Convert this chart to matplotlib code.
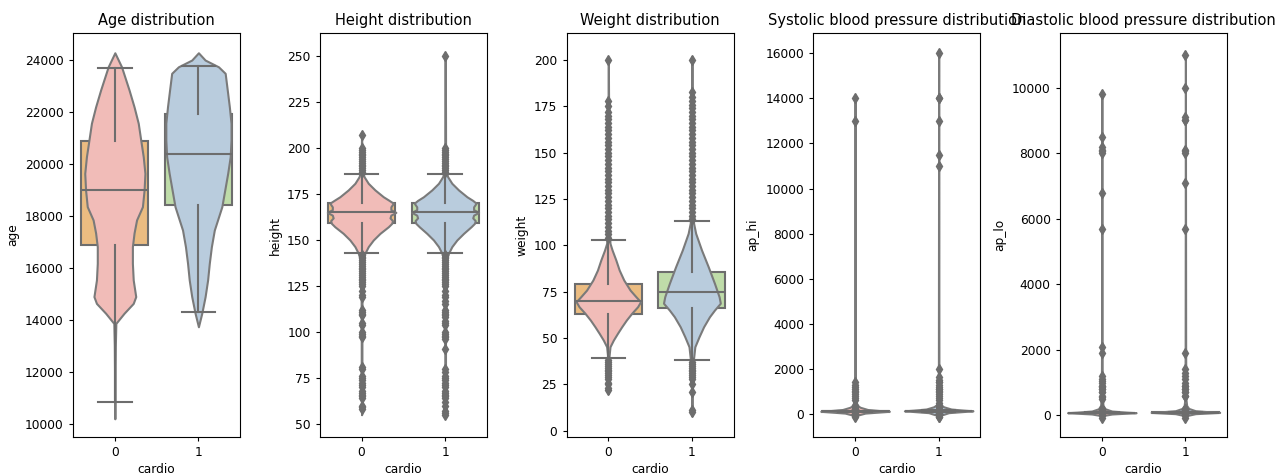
import matplotlib
matplotlib.use("Agg")
import matplotlib.pyplot as plt
import numpy as np

# ---------------- data ----------------
groups = [0, 1]
group_labels = ["0", "1"]
titles = ["Age distribution", "Height distribution", "Weight distribution",
          "Systolic blood pressure distribution", "Diastolic blood pressure distribution"]
ylabels = ["age", "height", "weight", "ap_hi", "ap_lo"]

# box statistics (cardio 0, cardio 1)
age_med = [19000, 20400]
age_q1 = [16900, 18420]
age_q3 = [20880, 21920]
age_whislo = [10830, 14320]
age_whishi = [23680, 23760]
age_fliers0 = []
age_fliers1 = []

height_med = [165, 165]
height_q1 = [159, 159]
height_q3 = [170, 170]
height_whislo = [143, 143]
height_whishi = [186, 186]
height_fliers0 = [187, 188, 189, 190, 191, 192, 193, 194, 195, 196, 197, 198, 199, 200, 207,
                  142, 141, 140, 139, 138, 137, 136, 135, 134, 133, 132, 131, 130, 129, 128,
                  127, 126, 125, 122, 120, 119, 112, 111, 110, 109, 105, 104, 100, 99, 98, 97,
                  81, 80, 76, 75, 74, 72, 71, 70, 68, 67, 66, 65, 64, 60, 59, 58]
height_fliers1 = [187, 188, 189, 190, 191, 192, 193, 194, 195, 196, 197, 198, 199, 200, 250,
                  142, 141, 140, 139, 138, 137, 136, 135, 134, 133, 132, 131, 130, 129, 128,
                  127, 126, 125, 122, 120, 119, 117, 115, 112, 111, 110, 109, 108, 106, 105,
                  104, 100, 99, 98, 97, 96, 91, 80, 78, 76, 75, 74, 72, 71, 70, 68, 67, 66,
                  65, 64, 62, 60, 57, 56, 55]

weight_med = [70, 75]
weight_q1 = [63, 66]
weight_q3 = [79, 85.5]
weight_whislo = [39, 38]
weight_whishi = [103, 113]
weight_fliers0 = [104, 106, 108, 110, 112, 114, 116, 118, 120, 122, 124, 126, 128, 130, 132,
                  134, 136, 138, 140, 142, 144, 146, 148, 150, 152, 154, 156, 158, 160, 162,
                  164, 166, 168, 170, 172, 175, 178, 200,
                  38, 37, 36, 35, 34, 33, 32, 31, 30, 29, 28, 26, 25, 23, 22]
weight_fliers1 = [114, 116, 118, 120, 122, 124, 126, 128, 130, 132, 134, 136, 138, 140, 142,
                  144, 146, 148, 150, 152, 154, 156, 158, 160, 162, 164, 166, 168, 170, 172,
                  174, 176, 178, 180, 183, 200,
                  37, 36, 35, 34, 33, 32, 31, 30, 29, 28, 25, 21, 11, 10]

aphi_med = [120, 130]
aphi_q1 = [110, 120]
aphi_q3 = [120, 140]
aphi_whislo = [95, 90]
aphi_whishi = [135, 170]
aphi_fliers0 = [14020, 13010, 1420, 1300, 1205, 1130, 1000, 960, 907, 806, 701, 600, 401,
                309, 240, 220, 200, 190, 180, 170, 160, 150, 140, 90, 85, 80, 70, 60, 20, 14,
                12, 11, 10, 1, -100, -150]
aphi_fliers1 = [16020, 14020, 14000, 13010, 11500, 11020, 2000, 1620, 1500, 1420, 1400, 1300,
                1205, 1130, 1110, 1000, 960, 907, 806, 701, 600, 509, 401, 309, 240, 220, 200,
                190, 185, 180, 80, 70, 60, 24, 20, 16, 14, 13, 11, 10, 1, -115, -140]

aplo_med = [80, 80]
aplo_q1 = [70, 80]
aplo_q3 = [80, 90]
aplo_whislo = [60, 65]
aplo_whishi = [95, 105]
aplo_fliers0 = [9800, 8500, 8200, 8100, 8079, 8000, 6800, 5700, 2088, 1900, 1200, 1100, 1033,
                1001, 902, 900, 850, 809, 800, 710, 700, 602, 570, 500, 190, 180, 170, 160,
                150, 140, 130, 125, 30, 20, 10, 0, -70]
aplo_fliers1 = [11000, 10000, 9100, 9011, 9000, 8100, 8077, 8000, 7100, 5700, 1900, 1400, 1300,
                1200, 1100, 1000, 910, 900, 809, 800, 708, 700, 602, 600, 190, 180, 170, 160,
                150, 140, 130, 120, 110, 60, 50, 40, 30, 20, 10, 0, -70]

# violin profiles: values and half widths (x units)
age_v0_y = [10200, 11000, 12000, 13000, 13870, 14260, 14640, 14900, 15540, 16180, 16820, 17350,
            17850, 18360, 19000, 19640, 20280, 20920, 21570, 22200, 22850, 23740, 24280]
age_v0_w = [0.0, 0.004, 0.004, 0.006, 0.012, 0.11, 0.22, 0.25, 0.22, 0.21, 0.21, 0.23,
            0.26, 0.33, 0.35, 0.36, 0.34, 0.31, 0.28, 0.23, 0.17, 0.08, 0.0]
age_v1_y = [13740, 14260, 14900, 15540, 16180, 16820, 17460, 18360, 19000, 19640, 20280, 20920,
            21570, 22200, 22850, 23490, 23740, 24000, 24280]
age_v1_w = [0.0, 0.04, 0.08, 0.11, 0.13, 0.155, 0.19, 0.28, 0.315, 0.35, 0.38, 0.39,
            0.39, 0.37, 0.345, 0.32, 0.24, 0.08, 0.0]

height_v0_y = [55, 70, 100, 130, 140, 142.8, 146.4, 150, 153.6, 157.2, 159, 160.5, 162, 163.5,
               165, 166.5, 168, 170, 171.5, 173.5, 177.2, 180.8, 184.4, 188, 195, 208]
height_v0_w = [0.0, 0.004, 0.004, 0.006, 0.02, 0.04, 0.08, 0.14, 0.22, 0.32, 0.36, 0.37, 0.34,
               0.35, 0.41, 0.35, 0.35, 0.38, 0.33, 0.26, 0.16, 0.08, 0.03, 0.01, 0.005, 0.0]
height_v1_y = [54, 70, 100, 130, 140, 142.8, 146.4, 150, 153.6, 157.2, 159, 160.5, 162, 163.5,
               165, 166.5, 168, 170, 171.5, 173.5, 177.2, 180.8, 184.4, 188, 195, 220, 250]
height_v1_w = [0.0, 0.004, 0.004, 0.006, 0.02, 0.04, 0.08, 0.14, 0.22, 0.31, 0.35, 0.36, 0.33,
               0.34, 0.40, 0.34, 0.34, 0.37, 0.33, 0.26, 0.16, 0.08, 0.03, 0.01, 0.005, 0.004, 0.0]

weight_v0_y = [20, 30, 40, 45.3, 48.9, 52.6, 56.1, 59.7, 63.4, 66.9, 69.6, 72.3, 75.9, 81.3,
               86.7, 92.1, 97.5, 101.1, 110, 140, 170, 201]
weight_v0_w = [0.0, 0.004, 0.008, 0.02, 0.06, 0.11, 0.16, 0.215, 0.28, 0.35, 0.385, 0.33, 0.26,
               0.185, 0.13, 0.09, 0.045, 0.02, 0.01, 0.005, 0.004, 0.0]
weight_v1_y = [8, 20, 35, 45.3, 50.7, 56.1, 61.5, 65.1, 68.8, 72.3, 79.5, 88.5, 97.5, 106.5,
               112, 130, 160, 190, 202]
weight_v1_w = [0.0, 0.004, 0.01, 0.035, 0.085, 0.14, 0.21, 0.27, 0.34, 0.325, 0.27, 0.195,
               0.115, 0.045, 0.02, 0.008, 0.005, 0.004, 0.0]

aphi_v0_y = [-160, -50, 40, 90, 120, 150, 200, 300, 400, 600, 1500, 14100]
aphi_v0_w = [0.0, 0.03, 0.12, 0.3, 0.41, 0.3, 0.15, 0.06, 0.02, 0.006, 0.003, 0.0]
aphi_v1_y = [-150, -50, 60, 110, 140, 170, 220, 320, 420, 600, 2100, 16100]
aphi_v1_w = [0.0, 0.03, 0.12, 0.3, 0.41, 0.3, 0.15, 0.06, 0.02, 0.006, 0.003, 0.0]

aplo_v0_y = [-80, 0, 40, 65, 80, 95, 130, 200, 300, 500, 2200, 9900]
aplo_v0_w = [0.0, 0.03, 0.12, 0.3, 0.41, 0.3, 0.12, 0.04, 0.015, 0.006, 0.003, 0.0]
aplo_v1_y = [-80, 0, 50, 75, 90, 105, 140, 210, 300, 500, 2000, 11100]
aplo_v1_w = [0.0, 0.03, 0.12, 0.3, 0.41, 0.3, 0.12, 0.04, 0.015, 0.006, 0.003, 0.0]

# ---------------- style ----------------
BOX_COLORS = ["#ebbc81", "#bfdca9"]
VIOLIN_COLORS = ["#f1bcb8", "#b9ccdd"]
BOX_LINE = "#6d6d6d"
VIOLIN_LINE = "#7a7a7a"
TICK_SIZE = 8.8
LABEL_SIZE = 8.8
TITLE_SIZE = 10.5


def make_stats(med, q1, q3, lo, hi, fl0, fl1):
    fls = [fl0, fl1]
    return [dict(med=med[i], q1=q1[i], q3=q3[i], whislo=lo[i], whishi=hi[i],
                 fliers=np.asarray(fls[i], dtype=float), label=group_labels[i])
            for i in range(2)]


panels = [
    (make_stats(age_med, age_q1, age_q3, age_whislo, age_whishi, age_fliers0, age_fliers1),
     [(age_v0_y, age_v0_w), (age_v1_y, age_v1_w)], (9500, 25040)),
    (make_stats(height_med, height_q1, height_q3, height_whislo, height_whishi,
                height_fliers0, height_fliers1),
     [(height_v0_y, height_v0_w), (height_v1_y, height_v1_w)], (42.9, 262.5)),
    (make_stats(weight_med, weight_q1, weight_q3, weight_whislo, weight_whishi,
                weight_fliers0, weight_fliers1),
     [(weight_v0_y, weight_v0_w), (weight_v1_y, weight_v1_w)], (-3.4, 214.6)),
    (make_stats(aphi_med, aphi_q1, aphi_q3, aphi_whislo, aphi_whishi, aphi_fliers0, aphi_fliers1),
     [(aphi_v0_y, aphi_v0_w), (aphi_v1_y, aphi_v1_w)], (-1020, 16900)),
    (make_stats(aplo_med, aplo_q1, aplo_q3, aplo_whislo, aplo_whishi, aplo_fliers0, aplo_fliers1),
     [(aplo_v0_y, aplo_v0_w), (aplo_v1_y, aplo_v1_w)], (-662, 11670)),
]

fig, axes = plt.subplots(1, 5, figsize=(12.77, 4.75), dpi=100)
fig.subplots_adjust(left=0.0572, right=0.961, bottom=0.08, top=0.9305, wspace=0.476)

for ax, (stats, violins, ylim), title, ylab in zip(axes, panels, titles, ylabels):
    bp = ax.bxp(stats, positions=groups, widths=0.8, patch_artist=True, showfliers=True,
                boxprops=dict(edgecolor=BOX_LINE, linewidth=1.5),
                whiskerprops=dict(color=BOX_LINE, linewidth=1.5),
                capprops=dict(color=BOX_LINE, linewidth=1.5),
                medianprops=dict(color=BOX_LINE, linewidth=1.5),
                flierprops=dict(marker="d", markerfacecolor=BOX_LINE, markeredgecolor=BOX_LINE,
                                markersize=5, linestyle="none"))
    for patch, c in zip(bp["boxes"], BOX_COLORS):
        patch.set_facecolor(c)
        patch.set_zorder(1)
    for key in ["whiskers", "caps", "medians", "fliers"]:
        for art in bp[key]:
            art.set_zorder(3)
    for pos, (yv, wv), c in zip(groups, violins, VIOLIN_COLORS):
        yv = np.asarray(yv, dtype=float)
        wv = np.asarray(wv, dtype=float)
        ax.fill_betweenx(yv, pos - wv, pos + wv, facecolor=c, edgecolor=VIOLIN_LINE,
                         linewidth=1.5, zorder=2)
    ax.set_xlim(-0.5, 1.5)
    ax.set_ylim(*ylim)
    ax.set_xticks(groups)
    ax.set_xticklabels(group_labels)
    ax.tick_params(labelsize=TICK_SIZE, length=3.2)
    ax.set_title(title, fontsize=TITLE_SIZE)
    ax.set_ylabel(ylab, fontsize=LABEL_SIZE)
    ax.set_xlabel("cardio", fontsize=LABEL_SIZE, labelpad=3)

fig.savefig("out.png", dpi=100)
